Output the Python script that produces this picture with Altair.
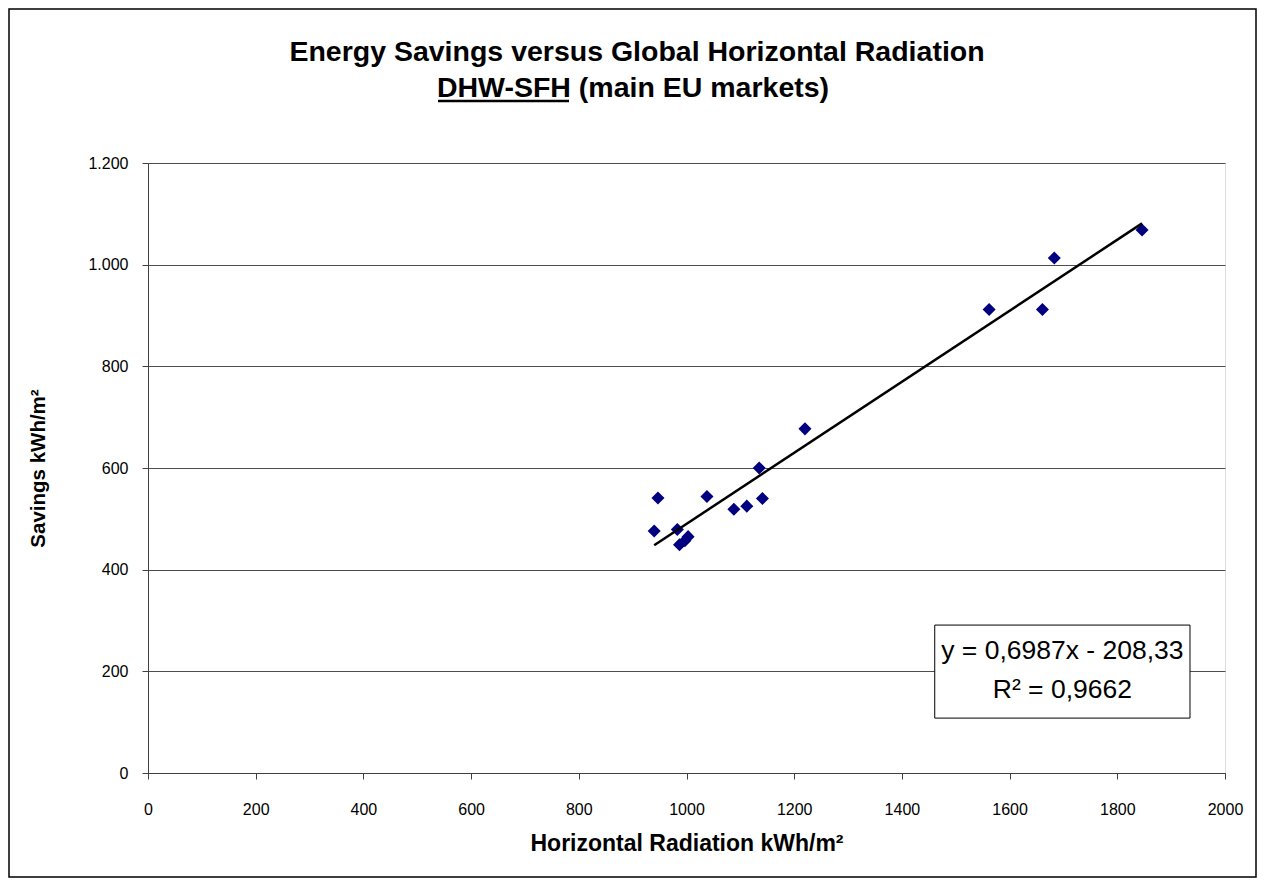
import altair as alt
import pandas as pd

# Data
radiation = [940, 947, 983, 987, 997, 1003, 1038, 1088, 1112, 1135, 1141, 1220, 1562, 1661, 1683, 1846]
savings = [476, 541, 479, 449, 457, 465, 544, 519, 525, 600, 540, 677, 912, 912, 1013, 1068]

x_ticks = [0, 200, 400, 600, 800, 1000, 1200, 1400, 1600, 1800, 2000]
y_ticks = [0, 200, 400, 600, 800, 1000, 1200]

title_line1 = "Energy Savings versus Global Horizontal Radiation"
title_line2_underlined = "DHW-SFH"
title_line2_rest = " (main EU markets)"

eq_lines = ["y = 0,6987x - 208,33", "R² = 0,9662"]
eq_line_y = [240, 163]
eq_center_x = [1698, 1698]
box_x = [1461]
box_x2 = [1935]
box_y = [108]
box_y2 = [291]

df = pd.DataFrame({"x": radiation, "y": savings})
eq_df = pd.DataFrame({"t": eq_lines, "x": eq_center_x, "y": eq_line_y})
box_df = pd.DataFrame({"x": box_x, "x2": box_x2, "y": box_y, "y2": box_y2})
one = pd.DataFrame({"t1": [title_line1], "t2": [title_line2_underlined + title_line2_rest]})

FONT = "Liberation Sans"

xscale = alt.Scale(domain=[0, 2000], nice=False)
yscale = alt.Scale(domain=[0, 1200], nice=False)

xaxis = alt.Axis(
    title="Horizontal Radiation kWh/m²", values=x_ticks, grid=False, format="d",
    labelFontSize=16, titleFontSize=23, titleFont=FONT, labelFont=FONT,
    titleFontWeight="bold", labelColor="black", titleColor="black",
    domainColor="#404040", tickColor="#404040", tickSize=6, labelPadding=22,
    titlePadding=15, labelFlush=False,
)
yaxis = alt.Axis(
    title="Savings kWh/m²", values=y_ticks, grid=True, gridColor="#4d4d4d",
    labelFontSize=16, titleFontSize=20.5, titleFont=FONT, labelFont=FONT,
    titleFontWeight="bold", labelColor="black", titleColor="black",
    domainColor="#404040", tickColor="#404040", tickSize=6, labelPadding=14,
    titlePadding=39, labelFlush=False,
    labelExpr="replace(format(datum.value, ',d'), ',', '.')",
)

points = alt.Chart(df).mark_point(
    shape="diamond", filled=True, color="#000080", size=170, opacity=1
).encode(
    x=alt.X("x:Q", scale=xscale, axis=xaxis),
    y=alt.Y("y:Q", scale=yscale, axis=yaxis),
)

trend = alt.Chart(df).mark_line(color="black", strokeWidth=2.5).transform_regression(
    "x", "y"
).encode(
    x=alt.X("x:Q", scale=xscale),
    y=alt.Y("y:Q", scale=yscale),
)

box = alt.Chart(box_df).mark_rect(fill="white", stroke="black", strokeWidth=1).encode(
    x=alt.X("x:Q", scale=xscale), x2="x2:Q",
    y=alt.Y("y:Q", scale=yscale), y2="y2:Q",
)

eq = alt.Chart(eq_df).mark_text(
    font=FONT, fontSize=26.5, color="black", align="center", baseline="middle"
).encode(
    x=alt.X("x:Q", scale=xscale),
    y=alt.Y("y:Q", scale=yscale),
    text="t:N",
)

frame = alt.Chart(box_df).mark_rect(fill=None, stroke="black", strokeWidth=1.5).encode(
    x=alt.value(-139), x2=alt.value(1108),
    y=alt.value(-154), y2=alt.value(714),
)

t1 = alt.Chart(one).mark_text(
    font=FONT, fontSize=28.5, fontWeight="bold", color="black", align="center", baseline="middle"
).encode(x=alt.value(489), y=alt.value(-111), text="t1:N")

t2 = alt.Chart(one).mark_text(
    font=FONT, fontSize=28.5, fontWeight="bold", color="black", align="center", baseline="middle"
).encode(x=alt.value(485), y=alt.value(-75), text="t2:N")

underline = alt.Chart(one).mark_rule(color="black", strokeWidth=2.5).encode(
    x=alt.value(290), x2=alt.value(421), y=alt.value(-62)
)

chart = alt.layer(frame, t1, t2, underline, points, trend, box, eq).properties(
    width=1077,
    height=610,
    padding={"left": 140, "top": 155, "right": 32, "bottom": 105},
    autosize=alt.AutoSizeParams(type="none"),
).configure_view(
    stroke="#8c8c8c", strokeWidth=1.5
).configure(background="white")

chart.save("out.html", embed_options={"renderer": "svg", "actions": False})
